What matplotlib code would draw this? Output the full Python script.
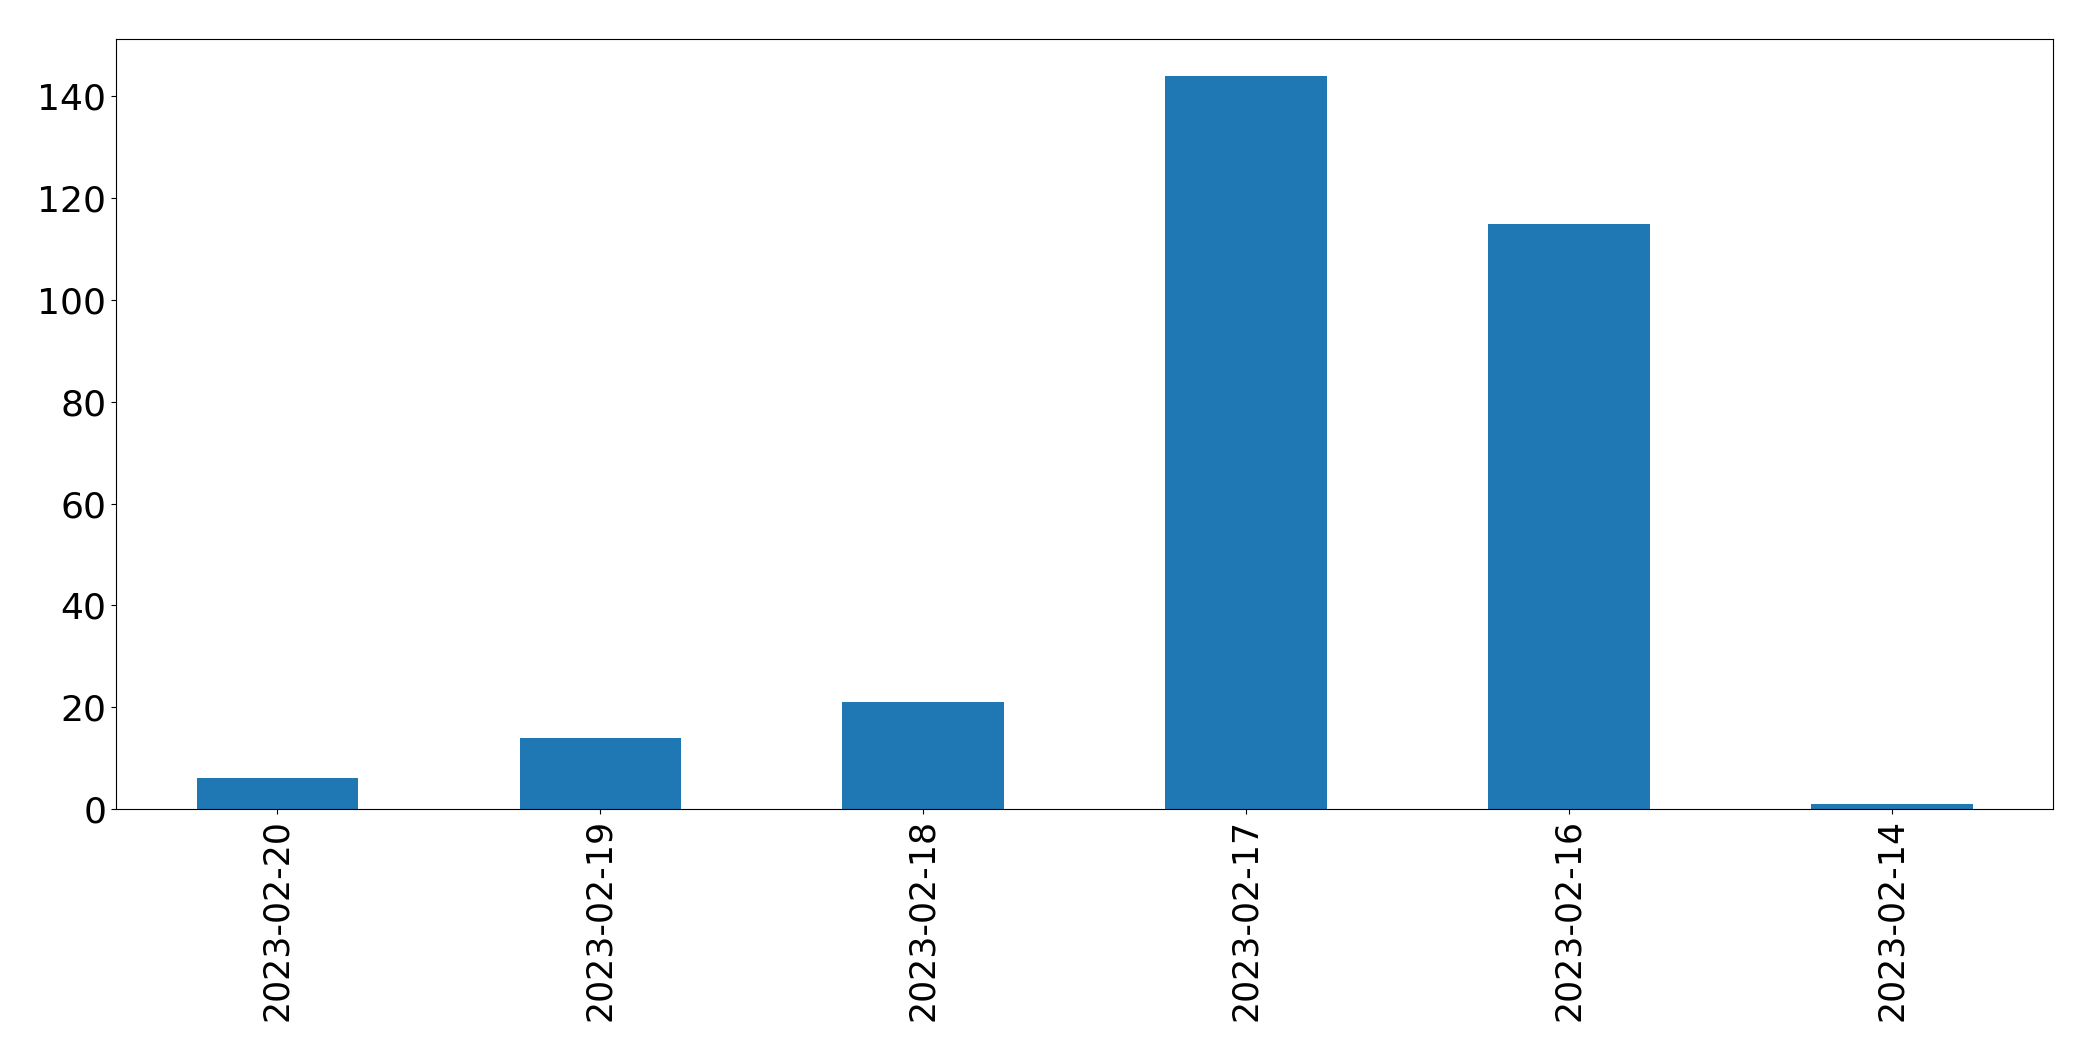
import matplotlib
matplotlib.use('Agg')
import matplotlib.pyplot as plt
import pandas as pd

# conteo por fecha
fechas = ['2023-02-20', '2023-02-19', '2023-02-18', '2023-02-17', '2023-02-16', '2023-02-14']
conteos = [6, 14, 21, 144, 115, 1]

serie = pd.Series(conteos, index=fechas)

fig, ax = plt.subplots(figsize=(20.93, 10.61), dpi=100)
serie.plot(kind='bar', ax=ax, color='#1f77b4')
plt.xticks(rotation=90, fontsize=25)
plt.yticks(fontsize=26)
plt.subplots_adjust(left=0.0554, right=0.981, top=0.963, bottom=0.2375)
plt.savefig('out.png', dpi=100)
